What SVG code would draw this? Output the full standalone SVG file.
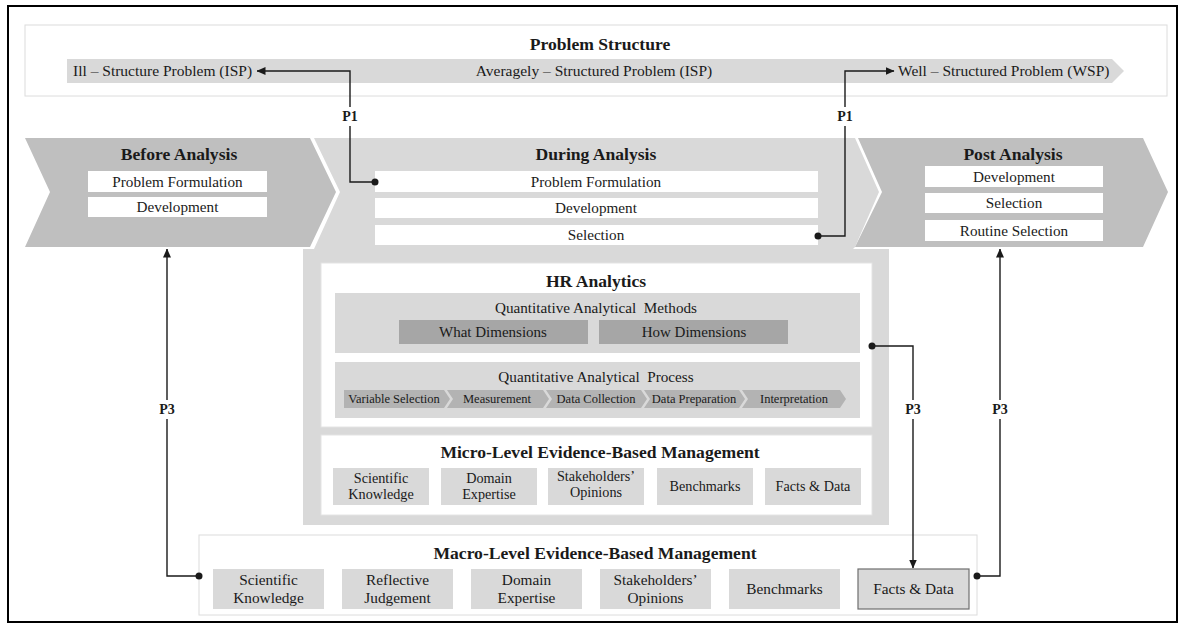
<svg xmlns="http://www.w3.org/2000/svg" width="1184" height="628" viewBox="0 0 1184 628">
  <defs>
    <style>
      text { font-family: "Liberation Serif", "Times New Roman", serif; fill: #1a1a1a; }
      .lbl { font-size: 15.2px; text-anchor: middle; }
      .sub { font-size: 15.2px; text-anchor: middle; }
      .dim { font-size: 15px; text-anchor: middle; }
      .step-t { font-size: 12.5px; text-anchor: middle; }
      .mi { font-size: 14.2px; text-anchor: middle; }
      .ma { font-size: 15.3px; text-anchor: middle; }
      .band { font-size: 15.5px; }
      .title { font-size: 17.6px; font-weight: bold; text-anchor: middle; }
      .plabel { font-size: 14px; font-weight: bold; text-anchor: middle; }
      .wbox { fill: #ffffff; }
      .lgray { fill: #d9d9d9; }
      .mgray { fill: #bfbfbf; }
      .dgray { fill: #a6a6a6; }
      .step { fill: #b3b3b3; }
      .wire { fill: none; stroke: #1a1a1a; stroke-width: 1.4; }
      .dot { fill: #1a1a1a; }
      .lblbg { fill: #ffffff; }
    </style>
    <marker id="arrow" markerUnits="userSpaceOnUse" markerWidth="9" markerHeight="8" refX="8.5" refY="4" orient="auto">
      <path d="M0,0 L9,4 L0,8 Z" fill="#1a1a1a"/>
    </marker>
  </defs>

  <!-- outer frame -->
  <rect x="8" y="6" width="1169" height="616" fill="#ffffff" stroke="#000000" stroke-width="2"/>

  <!-- problem structure strip -->
  <g id="problem-structure">
    <rect x="25" y="25" width="1142" height="71" fill="#ffffff" stroke="#dcdcdc" stroke-width="1"/>
    <text class="title" x="600" y="50">Problem Structure</text>
    <polygon class="lgray" points="67,59 1112,59 1124,71 1112,83 67,83"/>
    <text class="band" x="73" y="76">Ill – Structure Problem (ISP)</text>
    <text class="band" x="594" y="76" text-anchor="middle">Averagely – Structured Problem (ISP)</text>
    <text class="band" x="898" y="76">Well – Structured Problem (WSP)</text>
  </g>

  <!-- before analysis -->
  <g id="before-analysis">
    <polygon class="mgray" points="25,138 310,138 336,192 310,247 25,247 50,192"/>
    <text class="title" x="179" y="160">Before Analysis</text>
    <rect class="wbox" x="88" y="171" width="179" height="21"/>
    <text class="lbl" x="177.5" y="187">Problem Formulation</text>
    <rect class="wbox" x="88" y="197" width="179" height="20"/>
    <text class="lbl" x="177.5" y="212">Development</text>
  </g>

  <!-- during analysis, including its lower body -->
  <g id="during-analysis">
    <path class="lgray" d="M314,138 H855 L879,192 L855,247 L853,249 H889 V525 H303 V249 H314 L340,192 Z"/>
    <text class="title" x="596" y="160">During Analysis</text>
    <rect class="wbox" x="375" y="171" width="443" height="21"/>
    <text class="lbl" x="596" y="187">Problem Formulation</text>
    <rect class="wbox" x="375" y="198" width="443" height="20"/>
    <text class="lbl" x="596" y="213">Development</text>
    <rect class="wbox" x="375" y="225" width="443" height="20"/>
    <text class="lbl" x="596" y="240">Selection</text>
  </g>

  <!-- post analysis -->
  <g id="post-analysis">
    <polygon class="mgray" points="858,138 1143,138 1168,192 1143,247 855,247 882,192"/>
    <text class="title" x="1013" y="160">Post Analysis</text>
    <rect class="wbox" x="925" y="166" width="178" height="21"/>
    <text class="lbl" x="1014" y="182">Development</text>
    <rect class="wbox" x="925" y="193" width="178" height="20"/>
    <text class="lbl" x="1014" y="208">Selection</text>
    <rect class="wbox" x="925" y="220" width="178" height="21"/>
    <text class="lbl" x="1014" y="236">Routine Selection</text>
  </g>

  <!-- HR analytics -->
  <g id="hr-analytics">
    <rect class="wbox" x="321" y="263" width="551" height="164" stroke="#e4e4e4" stroke-width="1"/>
    <text class="title" x="596" y="287">HR Analytics</text>
    <rect class="lgray" x="335" y="293" width="525" height="60"/>
    <text class="sub" x="596" y="313" xml:space="preserve">Quantitative Analytical  Methods</text>
    <rect class="dgray" x="399" y="320" width="189" height="24"/>
    <text class="dim" x="493" y="337">What Dimensions</text>
    <rect class="dgray" x="599" y="320" width="189" height="24"/>
    <text class="dim" x="694" y="337">How Dimensions</text>
    <rect class="lgray" x="335" y="362" width="525" height="56"/>
    <text class="sub" x="596" y="382" xml:space="preserve">Quantitative Analytical  Process</text>
    <polygon class="step" points="344,390 444,390 450,399 444,408 344,408"/>
    <text class="step-t" x="394" y="403">Variable Selection</text>
    <polygon class="step" points="447,390 543,390 549,399 543,408 447,408 453,399"/>
    <text class="step-t" x="497" y="403">Measurement</text>
    <polygon class="step" points="546,390 641,390 647,399 641,408 546,408 552,399"/>
    <text class="step-t" x="596" y="403">Data Collection</text>
    <polygon class="step" points="644,390 739,390 745,399 739,408 644,408 650,399"/>
    <text class="step-t" x="694" y="403">Data Preparation</text>
    <polygon class="step" points="742,390 840,390 846,399 840,408 742,408 748,399"/>
    <text class="step-t" x="794" y="403">Interpretation</text>
  </g>

  <!-- micro-level evidence-based management -->
  <g id="micro-ebm">
    <rect class="wbox" x="321" y="435" width="551" height="80" stroke="#e4e4e4" stroke-width="1"/>
    <text class="title" x="600" y="458">Micro-Level Evidence-Based Management</text>
    <rect class="lgray" x="333" y="468" width="96" height="37"/>
    <text class="mi" x="381" y="483">Scientific</text>
    <text class="mi" x="381" y="499">Knowledge</text>
    <rect class="lgray" x="441" y="468" width="96" height="37"/>
    <text class="mi" x="489" y="483">Domain</text>
    <text class="mi" x="489" y="499">Expertise</text>
    <rect class="lgray" x="548" y="468" width="96" height="37"/>
    <text class="mi" x="596" y="481">Stakeholders’</text>
    <text class="mi" x="596" y="497">Opinions</text>
    <rect class="lgray" x="657" y="468" width="96" height="37"/>
    <text class="mi" x="705" y="491">Benchmarks</text>
    <rect class="lgray" x="765" y="468" width="96" height="37"/>
    <text class="mi" x="813" y="491">Facts &amp; Data</text>
  </g>

  <!-- macro-level evidence-based management -->
  <g id="macro-ebm">
    <rect class="wbox" x="199" y="535" width="778" height="80" stroke="#dcdcdc" stroke-width="1"/>
    <text class="title" x="595" y="559">Macro-Level Evidence-Based Management</text>
    <rect class="lgray" x="213" y="569" width="111" height="40"/>
    <text class="ma" x="268.5" y="585">Scientific</text>
    <text class="ma" x="268.5" y="603">Knowledge</text>
    <rect class="lgray" x="342" y="569" width="111" height="40"/>
    <text class="ma" x="397.5" y="585">Reflective</text>
    <text class="ma" x="397.5" y="603">Judgement</text>
    <rect class="lgray" x="471" y="569" width="111" height="40"/>
    <text class="ma" x="526.5" y="585">Domain</text>
    <text class="ma" x="526.5" y="603">Expertise</text>
    <rect class="lgray" x="600" y="569" width="111" height="40"/>
    <text class="ma" x="655.5" y="585">Stakeholders’</text>
    <text class="ma" x="655.5" y="603">Opinions</text>
    <rect class="lgray" x="729" y="569" width="111" height="40"/>
    <text class="ma" x="784.5" y="594">Benchmarks</text>
    <rect class="lgray" x="858" y="569" width="111" height="40" stroke="#6e6e6e" stroke-width="1.2"/>
    <text class="ma" x="913.5" y="594">Facts &amp; Data</text>
  </g>

  <!-- connectors -->
  <g id="connectors">
    <path class="wire" d="M375,182 H350 V71 H257" marker-end="url(#arrow)"/>
    <circle class="dot" cx="375" cy="182" r="3.5"/>
    <path class="wire" d="M818,236 H845 V71 H894" marker-end="url(#arrow)"/>
    <circle class="dot" cx="818" cy="236" r="3.5"/>
    <path class="wire" d="M199,576 H167 V249" marker-end="url(#arrow)"/>
    <circle class="dot" cx="199" cy="576" r="3.5"/>
    <path class="wire" d="M872,346 H913 V568" marker-end="url(#arrow)"/>
    <circle class="dot" cx="872" cy="346" r="3.5"/>
    <path class="wire" d="M977,576 H1000 V249" marker-end="url(#arrow)"/>
    <circle class="dot" cx="977" cy="576" r="3.5"/>

    <rect class="lblbg" x="337" y="107" width="26" height="19"/>
    <text class="plabel" x="350" y="121">P1</text>
    <rect class="lblbg" x="832" y="107" width="26" height="19"/>
    <text class="plabel" x="845" y="121">P1</text>
    <rect class="lblbg" x="153" y="400" width="28" height="19"/>
    <text class="plabel" x="167" y="414">P3</text>
    <rect class="lblbg" x="899" y="400" width="28" height="19"/>
    <text class="plabel" x="913" y="414">P3</text>
    <rect class="lblbg" x="986" y="400" width="28" height="19"/>
    <text class="plabel" x="1000" y="414">P3</text>
  </g>
</svg>
